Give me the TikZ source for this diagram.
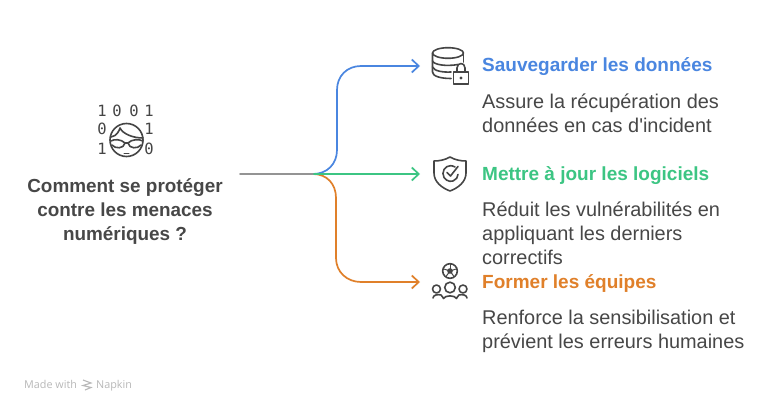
\documentclass[tikz,border=0pt]{standalone}
\usepackage{fontspec}
\setmainfont{Liberation Sans}
\newfontfamily\plainf{Liberation Sans}
\newfontfamily\monof{DejaVu Sans Mono}
\newfontfamily\markf{Open Sans}
\usetikzlibrary{arrows.meta}
\definecolor{cblue}{HTML}{4A86E0}
\definecolor{cgreen}{HTML}{3CC583}
\definecolor{corange}{HTML}{E0802A}
\definecolor{cgray}{HTML}{949494}
\definecolor{ctext}{HTML}{474747}
\definecolor{cicon}{HTML}{454545}
\tikzset{
  x=1pt,y=-1pt,
  conn/.style={line width=1.7pt,line cap=round},
  arrowconn/.style={conn,-{Straight Barb[length=7pt,width=13pt,line width=1.7pt]}},
  head/.style={anchor=base west,inner sep=0pt,font=\fontsize{19}{24}\selectfont\bfseries},
  body/.style={anchor=north west,inner sep=0pt,align=left,text=ctext,font=\fontsize{19.9}{24}\selectfont},
  title/.style={anchor=north,inner sep=0pt,align=center,text=ctext,font=\fontsize{18.9}{24}\selectfont\bfseries},
  icon/.style={draw=cicon,line width=1.6pt,line cap=round,line join=round,fill=none},
  digit/.style={inner sep=0pt,text=cicon,font=\monof\fontsize{15.5}{16}\selectfont},
}
\begin{document}
\begin{tikzpicture}
\useasboundingbox (0,0) rectangle (780,412);
\fill[white] (0,0) rectangle (780,412);
% connectors
\coordinate (start) at (240,174);
\coordinate (hub) at (313,174);
\coordinate (e1) at (420,66);
\coordinate (e2) at (420,174);
\coordinate (e3) at (420,282);
\draw[arrowconn,cblue] (hub) .. controls (327,174) and (337,164) .. (337,150) -- (337,90) .. controls (337,76) and (347,66) .. (361,66) -- (e1);
\draw[arrowconn,corange] (hub) .. controls (327,174) and (336,184) .. (336,198) -- (336,258) .. controls (336,272) and (347,282) .. (361,282) -- (e3);
\draw[arrowconn,cgreen] (hub) -- (e2);
\draw[conn,cgray] (start) -- (hub);
% left text
\node[title] (q) at (125,178) {Comment se protéger\\contre les menaces\\numériques ?};
% digits
\node[digit] (d1) at (102,111) {1};
\node[digit] (d2) at (117,111) {0};
\node[digit] (d3) at (134,111) {0};
\node[digit] (d4) at (149,111) {1};
\node[digit] (d5) at (102,128.5) {0};
\node[digit] (d6) at (149,128.5) {1};
\node[digit] (d7) at (102,148.5) {1};
\node[digit] (d8) at (149,148.5) {0};
% face
\draw[icon] (126.5,140) circle (16.5);
\draw[icon] (111,137) .. controls (117,136) and (119,131) .. (120,128) .. controls (123,134) and (133,138) .. (143,138);
\draw[icon] (111,141) .. controls (114,139) and (121,139) .. (125,143) .. controls (124,149) and (115,149) .. (112,145);
\draw[icon] (143,141) .. controls (139,139) and (132,139) .. (128,143) .. controls (129,149) and (138,149) .. (141,145);
\draw[icon] (125,143) -- (128,143);
\draw[icon,line width=1pt] (124,153) -- (129,153);
% database icon
\draw[icon] (448,53) ellipse (15.5 and 5.3);
\draw[icon] (432.5,53) -- (432.5,72) .. controls (432.5,76) and (440,78.5) .. (451,78.5);
\draw[icon] (463.5,53) -- (463.5,62);
\draw[icon] (432.5,61) .. controls (434,65) and (447,66.5) .. (458,64.5);
\draw[icon] (432.5,67) .. controls (434,71) and (443,72.5) .. (451,72);
% lock
\draw[icon] (453.5,72) rectangle (468.5,84);
\draw[icon] (457,72) -- (457,68) .. controls (457,62) and (465,62) .. (465,68) -- (465,72);
\fill[cicon] (461,78) circle (1.7);
% shield icon
\draw[icon] (450,157) .. controls (445,160) and (439,161) .. (434,161) -- (434,173) .. controls (434,182) and (442,188) .. (450,191) .. controls (458,188) and (466,182) .. (466,173) -- (466,161) .. controls (461,161) and (455,160) .. (450,157);
\draw[icon] (455,167) .. controls (449,163.5) and (443,167.5) .. (443,173.5) .. controls (443,179.5) and (449,182.5) .. (453,181) .. controls (456,180) and (458,177) .. (458,174.5);
\draw[icon] (447,172.5) -- (450.5,176) -- (458,166.5);
% team icon
\draw[icon] (450,271) circle (7.3);
\fill[cicon] (450,271) circle (2.8);
\foreach \a in {18,90,162,234,306} \draw[icon,line width=1pt] (450,271) -- ++({7*cos(\a)},{-7*sin(\a)});
\draw[icon] (450,287.5) circle (5.3);
\draw[icon] (436.5,289) circle (4);
\draw[icon] (463,289) circle (4);
\draw[icon] (433,298) .. controls (433,295) and (438,294) .. (441,295) .. controls (442,296) and (443,297.5) .. (443.5,298.5) .. controls (445,295) and (455,295) .. (456.5,298.5) .. controls (457,297.5) and (458,296) .. (459,295) .. controls (462,294) and (467,295) .. (467,298);
% right texts
\node[head,text=cblue] (t1) at (482,72) {Sauvegarder les données};
\node[body] (b1) at (482,94) {Assure la récupération des\\données en cas d{\plainf '}incident};
\node[head,text=cgreen] (t2) at (482,180) {Mettre à jour les logiciels};
\node[body] (b2) at (482,202) {Réduit les vulnérabilités en\\appliquant les derniers\\correctifs};
\node[head,text=corange] (t3) at (482,288) {Former les équipes};
\node[body] (b3) at (482,310) {Renforce la sensibilisation et\\prévient les erreurs humaines};
% watermark
\node[anchor=base west,inner sep=0pt,text=black!28,font=\markf\fontsize{10.8}{12}\selectfont] (mw) at (24,388) {Made with};
\node[anchor=base west,inner sep=0pt,text=black!28,font=\markf\fontsize{10.8}{12}\selectfont] (nk) at (96,388) {Napkin};
\draw[black!28,line width=1.1pt] (83,380) -- (91,383) -- (83,385.5) -- (91,387.5) -- (85,390);
\end{tikzpicture}
\end{document}
